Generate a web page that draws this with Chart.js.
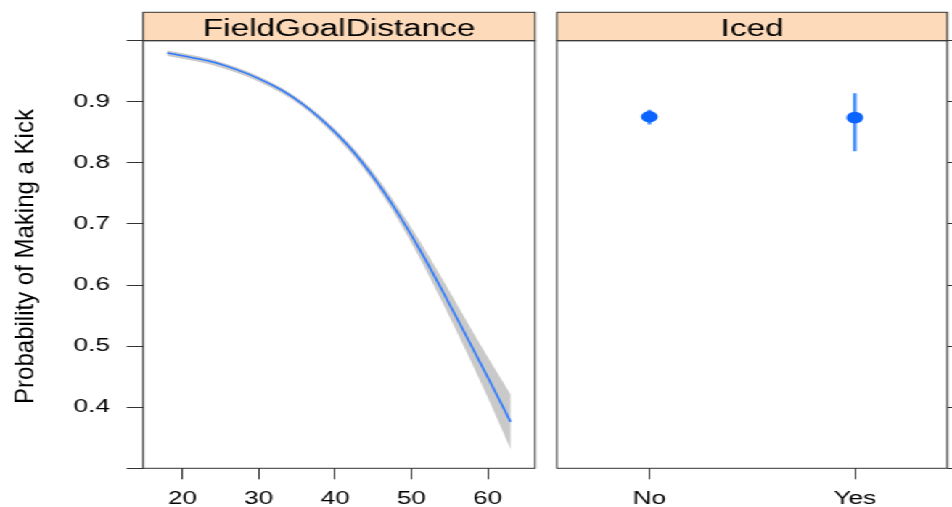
<!DOCTYPE html>
<html><head><meta charset="utf-8">
<script src="https://cdn.jsdelivr.net/npm/chart.js@4"></script>
<style>
html,body{margin:0;padding:0;background:#fff;overflow:hidden;width:952px;height:507px}
#wrap{position:absolute;left:0;top:0;width:656px;height:507px;transform:scaleX(1.4512);transform-origin:0 0}
#c1{position:absolute;left:0;top:0}
#c2{position:absolute;left:378px;top:0}
</style></head><body>
<div id="wrap"><canvas id="c1" width="372" height="507"></canvas><canvas id="c2" width="300" height="507"></canvas></div>
<script>
// ---- data ----
const distance   = [18, 21, 24, 27, 30, 33, 36, 39, 42, 45, 48, 51, 54, 57, 60, 63];
const probFit    = [0.980, 0.973, 0.965, 0.953, 0.938, 0.919, 0.894, 0.862, 0.824, 0.777, 0.722, 0.660, 0.592, 0.521, 0.449, 0.376];
const probUpper  = [0.984, 0.977, 0.969, 0.957, 0.942, 0.923, 0.898, 0.867, 0.830, 0.785, 0.732, 0.674, 0.611, 0.546, 0.482, 0.421];
const probLower  = [0.975, 0.968, 0.960, 0.948, 0.933, 0.914, 0.889, 0.856, 0.817, 0.769, 0.712, 0.646, 0.573, 0.496, 0.416, 0.331];
const icedLevels = ['No', 'Yes'];
const icedFit    = [0.8755, 0.874];
const icedLower  = [0.863, 0.819];
const icedUpper  = [0.887, 0.914];
const probTicks      = [0.3, 0.4, 0.5, 0.6, 0.7, 0.8, 0.9, 1.0];
const probTickLabels = ['', '0.4', '0.5', '0.6', '0.7', '0.8', '0.9', ''];
const distanceTicks      = [20, 30, 40, 50, 60];
const distanceTickLabels = ['20', '30', '40', '50', '60'];
const icedTicks = [1, 2];
const stripLeft  = 'FieldGoalDistance';
const stripRight = 'Iced';
const yTitle = 'Probability of Making a Kick';

// ---- styling ----
const FONT = "'Liberation Sans', Arial, Helvetica, sans-serif";
const INK = '#333333';
const TEXT = '#000000';
const STRIP_BG = '#FDDBBA';
const BAND = '#C9C9C9';
const LINE = '#2f7bff';
const POINT = '#0a64ff';
const BAR = '#3f8bff';

const panelPlugin = {
  id: 'panel',
  afterDraw(chart, args, opts) {
    const {ctx, chartArea: a} = chart;
    ctx.save();
    const stripTop = 12.3;
    ctx.fillStyle = STRIP_BG;
    ctx.fillRect(a.left, stripTop, a.right - a.left, a.top - stripTop);
    ctx.strokeStyle = INK; ctx.lineWidth = 1;
    ctx.strokeRect(a.left, stripTop, a.right - a.left, a.top - stripTop);
    ctx.strokeRect(a.left, a.top, a.right - a.left, a.bottom - a.top);
    ctx.fillStyle = TEXT;
    ctx.font = '23px ' + FONT;
    ctx.textAlign = 'center'; ctx.textBaseline = 'alphabetic';
    ctx.fillText(opts.strip, (a.left + a.right) / 2, 35.5);
    if (opts.ylab) {
      ctx.translate(22.9, (a.top + a.bottom) / 2 + 2);
      ctx.rotate(-Math.PI / 2);
      ctx.scale(1, 0.74);
      ctx.font = '24px ' + FONT;
      ctx.fillText(opts.ylab, 0, 0);
    }
    ctx.restore();
  }
};

function yAxis(position, width, showLabels) {
  return {
    type: 'linear', min: 0.3, max: 1.0, position,
    afterBuildTicks: s => { s.ticks = probTicks.map(v => ({value: v})); },
    afterFit: s => { s.width = width; },
    grid: {drawOnChartArea: false, drawTicks: true, tickLength: 11.4, color: INK, tickColor: INK, lineWidth: 1},
    border: {display: false},
    ticks: {display: showLabels, padding: 11.5, color: TEXT, font: {family: FONT, size: 18},
            callback: (v, i) => probTickLabels[i]}
  };
}
function xAxis(min, max, tickVals, tickLabels) {
  return {
    type: 'linear', min, max, position: 'bottom',
    afterBuildTicks: s => { s.ticks = tickVals.map(v => ({value: v})); },
    afterFit: s => { s.height = 38.7; },
    grid: {drawOnChartArea: false, drawTicks: true, tickLength: 11, color: INK, tickColor: INK, lineWidth: 1},
    border: {display: false},
    ticks: {padding: 9.4, maxRotation: 0, autoSkip: false, color: TEXT, font: {family: FONT, size: 18},
            callback: (v, i) => tickLabels[i]}
  };
}
const common = {
  responsive: false, animation: false, events: [],
  plugins: {legend: {display: false}, tooltip: {enabled: false}},
};

new Chart(document.getElementById('c1'), {
  type: 'line',
  data: {datasets: [
    {data: distance.map((x, i) => ({x, y: probFit[i]})), borderColor: LINE, borderWidth: 1.6,
     pointRadius: 0, fill: false, cubicInterpolationMode: 'monotone'},
    {data: distance.map((x, i) => ({x, y: probUpper[i]})), borderWidth: 0, borderColor: 'rgba(0,0,0,0)',
     pointRadius: 0, fill: '+1', backgroundColor: BAND, cubicInterpolationMode: 'monotone'},
    {data: distance.map((x, i) => ({x, y: probLower[i]})), borderWidth: 0, borderColor: 'rgba(0,0,0,0)',
     pointRadius: 0, fill: false, cubicInterpolationMode: 'monotone'}
  ]},
  options: Object.assign({}, common, {
    layout: {padding: {top: 40.7, right: 3.3, left: 0, bottom: 0}},
    scales: {x: xAxis(14.85, 66.2, distanceTicks, distanceTickLabels), y: yAxis('left', 98.7, true)},
    plugins: Object.assign({}, common.plugins, {panel: {strip: stripLeft, ylab: yTitle}})
  }),
  plugins: [panelPlugin]
});

const rightSets = [
  {data: icedLevels.map((l, i) => ({x: icedTicks[i], y: icedFit[i]})), showLine: false,
   pointRadius: 5.8, pointBackgroundColor: POINT, pointBorderWidth: 0, borderColor: POINT}
];
icedLevels.forEach((l, i) => {
  rightSets.push({data: [{x: icedTicks[i], y: icedLower[i]}, {x: icedTicks[i], y: icedUpper[i]}],
    borderColor: BAR, borderWidth: 2.5, pointRadius: 0, fill: false});
});
new Chart(document.getElementById('c2'), {
  type: 'line',
  data: {datasets: rightSets},
  options: Object.assign({}, common, {
    layout: {padding: {top: 40.7, right: 0, left: 4.9, bottom: 0}},
    scales: {x: xAxis(0.55, 2.45, icedTicks, icedLevels), y: yAxis('right', 25.2, false)},
    plugins: Object.assign({}, common.plugins, {panel: {strip: stripRight}})
  }),
  plugins: [panelPlugin]
});
</script>
</body></html>
